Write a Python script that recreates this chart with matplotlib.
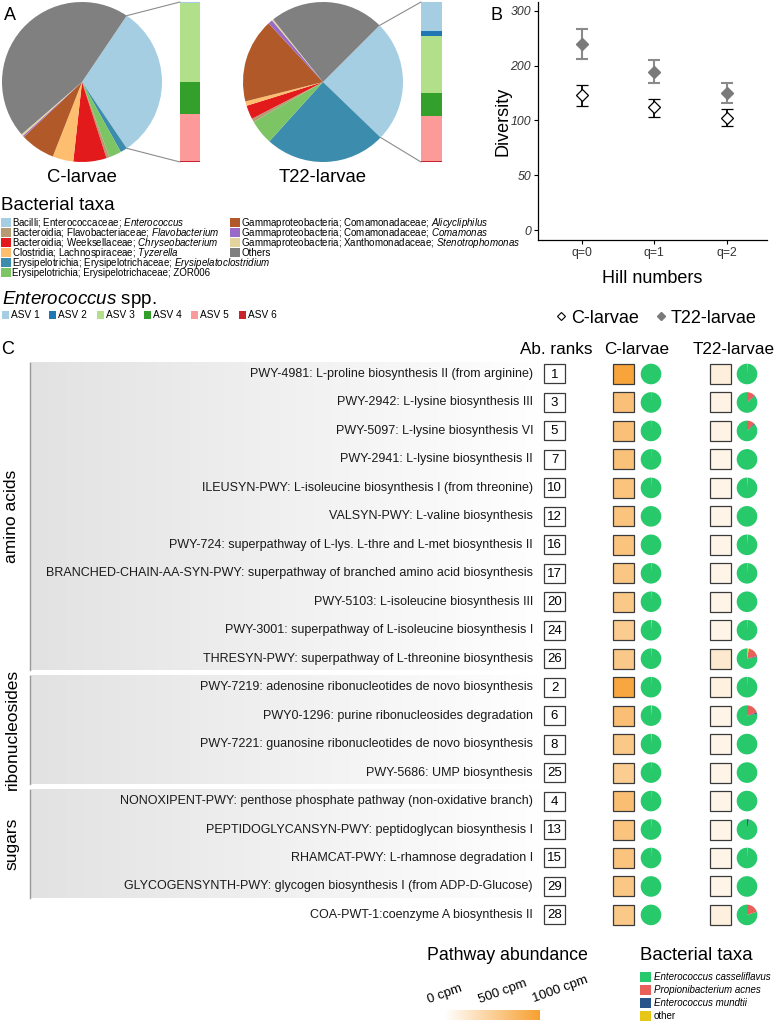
import numpy as np
import matplotlib
matplotlib.use('Agg')
import matplotlib.pyplot as plt
from matplotlib.patches import Rectangle, Wedge, ConnectionPatch
from matplotlib.lines import Line2D
from matplotlib.colors import LinearSegmentedColormap

plt.rcParams['font.family'] = ['Liberation Sans', 'DejaVu Sans']
plt.rcParams['mathtext.fontset'] = 'custom'
plt.rcParams['mathtext.rm'] = 'Liberation Sans'
plt.rcParams['mathtext.it'] = 'Liberation Sans:italic'

# ---------------- Panel A: dane ----------------
pie_taxa = ['Enterococcus', 'Erysipelatoclostridium', 'ZOR006', 'Flavobacterium',
            'Chryseobacterium', 'Tyzerella', 'Alicycliphilus', 'Comamonas',
            'Stenotrophomonas', 'Others']
c_larvae_pct = [31.1, 1.4, 2.5, 0.6, 6.7, 4.2, 7.0, 0.3, 0.4, 45.8]
t22_larvae_pct = [24.7, 24.5, 5.0, 0.7, 2.8, 0.9, 17.0, 0.9, 0.3, 23.2]
c_start, t22_start = 56, 45

taxa_colors = {'Enterococcus': '#a6cee3', 'Flavobacterium': '#b59a74',
               'Chryseobacterium': '#e31a1c', 'Tyzerella': '#fdbf6f',
               'Erysipelatoclostridium': '#3c8dad', 'ZOR006': '#7dc465',
               'Alicycliphilus': '#b15928', 'Comamonas': '#9a6bc6',
               'Stenotrophomonas': '#e3d49e', 'Others': '#808080'}

legend_keys = ['Enterococcus', 'Flavobacterium', 'Chryseobacterium', 'Tyzerella',
               'Erysipelatoclostridium', 'ZOR006', 'Alicycliphilus', 'Comamonas',
               'Stenotrophomonas', 'Others']
legend_labels = ['Bacilli; Enterococcaceae; $\\mathit{Enterococcus}$',
                 'Bacteroidia; Flavobacteriaceae; $\\mathit{Flavobacterium}$',
                 'Bacteroidia; Weeksellaceae; $\\mathit{Chryseobacterium}$',
                 'Clostridia; Lachnospiraceae; $\\mathit{Tyzerella}$',
                 'Erysipelotrichia; Erysipelotrichaceae; $\\mathit{Erysipelatoclostridium}$',
                 'Erysipelotrichia; Erysipelotrichaceae; ZOR006',
                 'Gammaproteobacteria; Comamonadaceae; $\\mathit{Alicycliphilus}$',
                 'Gammaproteobacteria; Comamonadaceae; $\\mathit{Comamonas}$',
                 'Gammaproteobacteria; Xanthomonadaceae; $\\mathit{Stenotrophomonas}$',
                 'Others']

asv_names = ['ASV 1', 'ASV 2', 'ASV 3', 'ASV 4', 'ASV 5', 'ASV 6']
asv_colors = ['#a6cee3', '#1f78b4', '#b2df8a', '#33a02c', '#fb9a99', '#c8242c']
c_asv = [0.7, 0.0, 49.0, 20.6, 29.0, 0.7]
t22_asv = [18.0, 3.0, 36.0, 14.0, 28.5, 0.5]

# ---------------- Panel B: dane ----------------
hill = ['q=0', 'q=1', 'q=2']
c_div = [147, 124, 105]
c_lo = [127, 107, 94.5]
c_hi = [164, 140, 120]
t22_div = [239, 188, 150]
t22_lo = [212, 168, 131]
t22_hi = [266, 210, 169]
y_ticks = [0, 50, 100, 200, 300]

# ---------------- Panel C: dane ----------------
pathways = ['PWY-4981: L-proline biosynthesis II (from arginine)',
            'PWY-2942: L-lysine biosynthesis III',
            'PWY-5097: L-lysine biosynthesis VI',
            'PWY-2941: L-lysine biosynthesis II',
            'ILEUSYN-PWY: L-isoleucine biosynthesis I (from threonine)',
            'VALSYN-PWY: L-valine biosynthesis',
            'PWY-724: superpathway of L-lys. L-thre and L-met biosynthesis II',
            'BRANCHED-CHAIN-AA-SYN-PWY: superpathway of branched amino acid biosynthesis',
            'PWY-5103: L-isoleucine biosynthesis III',
            'PWY-3001: superpathway of L-isoleucine biosynthesis I',
            'THRESYN-PWY: superpathway of L-threonine biosynthesis',
            'PWY-7219: adenosine ribonucleotides de novo biosynthesis',
            'PWY0-1296: purine ribonucleosides degradation',
            'PWY-7221: guanosine ribonucleotides de novo biosynthesis',
            'PWY-5686: UMP biosynthesis',
            'NONOXIPENT-PWY: penthose phosphate pathway (non-oxidative branch)',
            'PEPTIDOGLYCANSYN-PWY: peptidoglycan biosynthesis I',
            'RHAMCAT-PWY: L-rhamnose degradation I',
            'GLYCOGENSYNTH-PWY: glycogen biosynthesis I (from ADP-D-Glucose)',
            'COA-PWT-1:coenzyme A biosynthesis II']
ranks = [1, 3, 5, 7, 10, 12, 16, 17, 20, 24, 26, 2, 6, 8, 25, 4, 13, 15, 29, 28]
group_names = ['amino acids', 'ribonucleosides', 'sugars']
group_sizes = [11, 4, 4]

c_cpm = [950, 660, 660, 650, 620, 620, 620, 600, 580, 540, 570,
         920, 670, 580, 530, 680, 620, 620, 590, 580]
t22_cpm = [170, 130, 130, 110, 120, 120, 110, 110, 120, 110, 230,
           150, 120, 110, 120, 110, 110, 110, 120, 160]

pie_taxa_c = ['Enterococcus casseliflavus', 'Enterococcus mundtii',
              'Propionibacterium acnes', 'other']
pie_taxa_c_colors = ['#27c96b', '#27558a', '#e8605a', '#e6c619']
legend_c_idx = [0, 2, 1, 3]
# udzialy [casseliflavus, mundtii, acnes, other] w %
c_green = [100, 99.6, 99.6, 99.2, 99.6, 100, 100, 99.6, 99.6, 99.2, 99.4,
           99.7, 99.0, 99.4, 99.7, 99.7, 99.4, 99.6, 100, 100]
c_blue = [0, 0.2, 0.2, 0.6, 0, 0, 0, 0, 0, 0, 0,
          0, 0, 0, 0, 0, 0, 0, 0, 0]
c_red = [0, 0, 0, 0, 0, 0, 0, 0, 0, 0, 0.3,
         0, 0, 0, 0, 0, 0.4, 0, 0, 0]
c_other = [0, 0.2, 0.2, 0.2, 0.4, 0, 0, 0.4, 0.4, 0.8, 0.3,
           0.3, 1.0, 0.6, 0.3, 0.3, 0.2, 0.4, 0, 0]
t22_green = [99.5, 86.0, 86.5, 99.0, 99.4, 100, 99.4, 99.5, 100, 99.6, 77.5,
             99.6, 78.0, 100, 100, 100, 97.0, 99.5, 100, 80.0]
t22_blue = [0, 1.0, 1.5, 1.0, 0, 0, 0, 0, 0, 0, 1.5,
            0, 2.0, 0, 0, 0, 3.0, 0, 0, 0]
t22_red = [0, 13.0, 12.0, 0, 0, 0, 0, 0, 0, 0, 18.0,
           0, 20.0, 0, 0, 0, 0, 0, 0, 20.0]
t22_other = [0.5, 0, 0, 0, 0.6, 0, 0.6, 0.5, 0, 0.4, 3.0,
             0.4, 0, 0, 0, 0, 0, 0.5, 0, 0]

cbar_ticks = [0, 500, 1000]
cbar_labels = ['0 cpm', '500 cpm', '1000 cpm']

# ---------------- Uklad ----------------
W, H = 776, 1022


def rect(x0, y0, x1, y1):
    return [x0 / W, 1 - y1 / H, (x1 - x0) / W, (y1 - y0) / H]


fig = plt.figure(figsize=(W / 100, H / 100), dpi=100)
ax0 = fig.add_axes([0, 0, 1, 1])
ax0.set_axis_off()

# ---------------- Panel A ----------------
def pie_with_bar(pie_box, bar_box, pct, start, asv_vals, label):
    axp = fig.add_axes(rect(*pie_box))
    axp.pie(pct, colors=[taxa_colors[t] for t in pie_taxa], startangle=start,
            counterclock=False, radius=1, wedgeprops=dict(linewidth=0))
    axp.set_xlim(-1, 1)
    axp.set_ylim(-1, 1)
    axb = fig.add_axes(rect(*bar_box))
    bottom = 0
    for v, col in zip(asv_vals, asv_colors):
        axb.bar(0, v, bottom=bottom, width=1, color=col, linewidth=0)
        bottom += v
    axb.set_xlim(-0.5, 0.5)
    axb.set_ylim(100, 0)
    axb.set_axis_off()
    a1 = np.deg2rad(start)
    a2 = np.deg2rad(start - pct[0] * 3.6)
    for ang, corner in [(a1, (0, 1)), (a2, (0, 0))]:
        con = ConnectionPatch(xyA=(np.cos(ang), np.sin(ang)), coordsA=axp.transData,
                              xyB=corner, coordsB=axb.transAxes,
                              color='#8c8c8c', lw=0.8)
        fig.add_artist(con)
    cx = (pie_box[0] + pie_box[2]) / 2
    ax0.text(cx, 178, label, ha='center', va='center', fontsize=13.3)


pie_with_bar((2, 2, 162, 162), (180, 2, 200, 162), c_larvae_pct, c_start, c_asv, 'C-larvae')
pie_with_bar((243, 2, 403, 162), (421, 2, 442, 162), t22_larvae_pct, t22_start, t22_asv, 'T22-larvae')
ax0.text(10, 16, 'A', ha='center', va='center', fontsize=13)

# legenda taksonow
ax0.text(1, 205, 'Bacterial taxa', ha='left', va='center', fontsize=13.5)
for i, (key, lab) in enumerate(zip(legend_keys, legend_labels)):
    col, row = divmod(i, 6)
    x = 1 if col == 0 else 230
    y = 222.5 + row * 10
    ax0.add_patch(Rectangle((x, y - 4.5), 10, 9, facecolor=taxa_colors[key], lw=0))
    ax0.text(x + 11, y, lab, ha='left', va='center', fontsize=7.0)

ax0.text(2, 299, '$\\mathit{Enterococcus}$ spp.', ha='left', va='center', fontsize=13.5)
for i, (name, col) in enumerate(zip(asv_names, asv_colors)):
    x = 2 + i * 47.3
    ax0.add_patch(Rectangle((x, 311), 7, 8, facecolor=col, lw=0))
    ax0.text(x + 9, 315.5, name, ha='left', va='center', fontsize=7.3)

# ---------------- Panel B ----------------
brk = [-50] + y_ticks + [400]
pos = np.arange(len(brk)) - 1.0
axB = fig.add_axes(rect(538, 2, 767, 240))
axB.set_yscale('function', functions=(lambda v: np.interp(v, brk, pos),
                                      lambda p: np.interp(p, pos, brk)))
xs = np.arange(len(hill))
t22_div_a = np.array(t22_div)
c_div_a = np.array(c_div)
axB.errorbar(xs, t22_div, yerr=[t22_div_a - np.array(t22_lo), np.array(t22_hi) - t22_div_a],
             fmt='D', color='#8a8a8a', mfc='#7a7a7a', mec='#7a7a7a', ms=6.5,
             capsize=4, elinewidth=1.5, capthick=1.5)
axB.errorbar(xs, c_div, yerr=[c_div_a - np.array(c_lo), np.array(c_hi) - c_div_a],
             fmt='D', color='black', mfc='white', mec='black', ms=6.5, mew=0.9,
             capsize=4, elinewidth=1.3, capthick=1.3)
axB.set_ylim(-9, 316)
axB.set_xlim(-0.6, 2.55)
axB.set_yticks(y_ticks)
axB.set_yticklabels([str(t) for t in y_ticks], fontstyle='italic', fontsize=8.8, color='#333333')
axB.set_xticks(xs)
axB.set_xticklabels(hill, fontsize=8.8, color='#333333')
axB.tick_params(length=3, width=0.8, pad=2)
for s in ['top', 'right']:
    axB.spines[s].set_visible(False)
for s in ['left', 'bottom']:
    axB.spines[s].set_linewidth(0.9)
axB.patch.set_alpha(0)
axB.set_ylabel('Diversity', fontsize=13)
axB.yaxis.set_label_coords(-0.115, 0.5)
axB.set_xlabel('Hill numbers', fontsize=13)
axB.xaxis.set_label_coords(0.5, -0.125)
ax0.text(496, 15, 'B', ha='center', va='center', fontsize=13)

handles = [Line2D([], [], marker='D', ls='', mfc='white', mec='black', ms=4.5, mew=0.8),
           Line2D([], [], marker='D', ls='', mfc='#7a7a7a', mec='#7a7a7a', ms=4.5)]
fig.legend(handles, ['C-larvae', 'T22-larvae'], loc='center',
           bbox_to_anchor=(656 / W, 1 - 318 / H), ncol=2, frameon=False, fontsize=13,
           handlelength=0.6, handletextpad=0.25, columnspacing=0.9)

# ---------------- Panel C ----------------
row0, dy = 374, 28.47
row_y = row0 + dy * np.arange(len(pathways))
abund_cmap = LinearSegmentedColormap.from_list('abund', ['#ffffff', '#f7a030'])
grp_cmap = LinearSegmentedColormap.from_list('grp', ['#e2e2e2', '#ffffff'])
grad = np.linspace(0, 1, 256)[None, :]

ax0.text(8, 350, 'C', ha='center', va='center', fontsize=13)
ax0.text(556, 350, 'Ab. ranks', ha='center', va='center', fontsize=12.3)
ax0.text(637, 350, 'C-larvae', ha='center', va='center', fontsize=12.3)
ax0.text(734, 350, 'T22-larvae', ha='center', va='center', fontsize=12.3)

first = 0
for name, n in zip(group_names, group_sizes):
    top = row_y[first] - 11.3
    bot = row_y[first + n - 1] + 11.3
    ax0.imshow(grad, extent=(30, 545, bot, top), cmap=grp_cmap, aspect='auto', zorder=0)
    ax0.plot([30, 30], [top, bot], color='#9a9a9a', lw=1, zorder=1)
    ax0.text(12, (top + bot) / 2, name, rotation=90, ha='center', va='center', fontsize=12.5)
    first += n


def pie_glyph(cx, cy, fracs):
    start = 90.0
    for f, col in zip(fracs, pie_taxa_c_colors):
        if f <= 0:
            continue
        end = start + f * 3.6
        # os y odwrocona -> katy z minusem
        ax0.add_patch(Wedge((cx, cy), 10.3, -end, -start, facecolor=col, lw=0, zorder=3))
        start = end


for i, y in enumerate(row_y):
    ax0.text(533, y, pathways[i], ha='right', va='center', fontsize=9, color='#1a1a1a', zorder=3)
    ax0.add_patch(Rectangle((544, y - 9.5), 21, 19, facecolor='white', edgecolor='#3a3a3a',
                            lw=0.9, zorder=3))
    ax0.text(554.5, y + 0.5, str(ranks[i]), ha='center', va='center', fontsize=9.5, zorder=4)
    ax0.add_patch(Rectangle((613, y - 10), 21, 20, facecolor=abund_cmap(c_cpm[i] / 1000),
                            edgecolor='#3a3a3a', lw=0.9, zorder=3))
    ax0.add_patch(Rectangle((710, y - 10), 21, 20, facecolor=abund_cmap(t22_cpm[i] / 1000),
                            edgecolor='#3a3a3a', lw=0.9, zorder=3))
    pie_glyph(651, y, [c_green[i], c_blue[i], c_red[i], c_other[i]])
    pie_glyph(747, y, [t22_green[i], t22_blue[i], t22_red[i], t22_other[i]])

# legenda: pathway abundance
ax0.text(507, 956, 'Pathway abundance', ha='center', va='center', fontsize=12.8)
axc = fig.add_axes(rect(445, 1010, 539, 1020))
axc.imshow(np.linspace(0, 1000, 256)[None, :], cmap=abund_cmap, vmin=0, vmax=1000,
           aspect='auto', extent=(0, 1000, 0, 1))
axc.set_axis_off()
for t, lab in zip(cbar_ticks, cbar_labels):
    x = 445 + t / 1000 * 115
    ax0.text(x, 994 - t / 1000 * 5, lab, rotation=20, ha='center', va='center',
             rotation_mode='anchor', fontsize=9.5)

# legenda: bacterial taxa (panel C)
ax0.text(640, 956, 'Bacterial taxa', ha='left', va='center', fontsize=13.4)
for k, idx in enumerate(legend_c_idx):
    y = 977 + k * 13
    ax0.add_patch(Rectangle((640, y - 5), 11, 10, facecolor=pie_taxa_c_colors[idx], lw=0))
    ax0.text(654, y, pie_taxa_c[idx], ha='left', va='center', fontsize=7,
             fontstyle='normal' if pie_taxa_c[idx] == 'other' else 'italic')

ax0.set_xlim(0, W)
ax0.set_ylim(H, 0)

fig.savefig('out.png', dpi=100)
